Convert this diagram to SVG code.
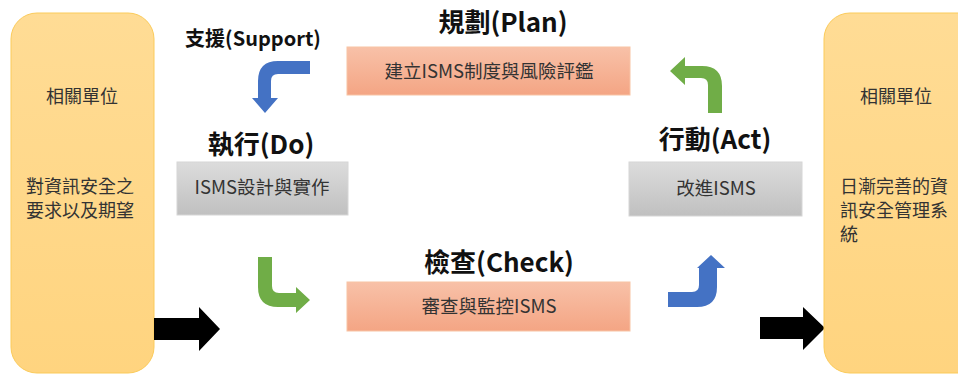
<svg xmlns="http://www.w3.org/2000/svg" width="958" height="374" viewBox="0 0 958 374">
<defs>
<linearGradient id="gPanel" x1="0" y1="0" x2="0" y2="1"><stop offset="0" stop-color="#ffdc95"/><stop offset="1" stop-color="#ffd47f"/></linearGradient>
<linearGradient id="gSalmon" x1="0" y1="0" x2="0" y2="1"><stop offset="0" stop-color="#f8c1a8"/><stop offset="1" stop-color="#f4a584"/></linearGradient>
<linearGradient id="gGray" x1="0" y1="0" x2="0" y2="1"><stop offset="0" stop-color="#dcdcdc"/><stop offset="1" stop-color="#c0c0c0"/></linearGradient>
<style>
.panel{fill:url(#gPanel);stroke:#fbcb5a;stroke-width:1}
.salmon{fill:url(#gSalmon);stroke:#f8c3a4;stroke-width:1}
.gray{fill:url(#gGray);stroke:#d6d6d6;stroke-width:1}
.t{font-family:"Noto Sans CJK TC","Noto Sans",sans-serif;font-size:18px;fill:#333}
.b{font-size:18.5px}
.title{font-family:"Noto Sans CJK TC","Noto Sans",sans-serif;font-size:26px;font-weight:700;fill:#111;text-anchor:middle}
.sub{font-family:"Noto Sans CJK TC","Noto Sans",sans-serif;font-size:20px;font-weight:700;fill:#111;text-anchor:middle}
.blue{fill:#4472c4}
.green{fill:#70ad47}
.black{fill:#000}
</style>
</defs>
<rect width="958" height="374" fill="#fff"/>
<g id="left-panel">
<rect class="panel" x="11" y="13" width="143" height="360" rx="26"/>
<text class="t" x="82" y="103" text-anchor="middle">相關單位</text>
<text class="t" x="26" y="193">對資訊安全之</text>
<text class="t" x="26" y="217">要求以及期望</text>
</g>
<g id="plan">
<text class="title" x="503" y="32">規劃(Plan)</text>
<rect class="salmon" x="347" y="47" width="283" height="48"/>
<text class="t b" x="489" y="78" text-anchor="middle">建立ISMS制度與風險評鑑</text>
</g>
<g id="do">
<text class="sub" x="253" y="46">支援(Support)</text>
<text class="title" x="261" y="154">執行(Do)</text>
<rect class="gray" x="177" y="162" width="171" height="53"/>
<text class="t b" x="262" y="194" text-anchor="middle">ISMS設計與實作</text>
</g>
<g id="act">
<text class="title" x="715" y="149">行動(Act)</text>
<rect class="gray" x="629" y="162" width="173" height="54"/>
<text class="t b" x="716" y="195" text-anchor="middle">改進ISMS</text>
</g>
<g id="check">
<text class="title" x="499" y="272">檢查(Check)</text>
<rect class="salmon" x="347" y="282" width="283" height="49"/>
<text class="t b" x="489" y="313" text-anchor="middle">審查與監控ISMS</text>
</g>
<g id="connectors">
<path class="blue" d="M310,61 L278,61 Q258,61 258,81 L258,98 L252,98 L265,113 L278,98 L271,98 L271,81 Q271,74 278,74 L310,74 Z"/>
<path class="green" d="M708,113 L708,85 Q708,78 701,78 L685,78 L685,85 L670,71 L685,57 L685,66 L702,66 Q722,66 722,86 L722,113 Z"/>
<path class="green" d="M258,257 L272,257 L272,286 Q272,293 279,293 L296,293 L296,287 L310,300 L296,313 L296,307 L278,307 Q258,307 258,287 Z"/>
<path class="blue" d="M668,292 L692,292 Q699,292 699,285 L699,268 L697,268 L711,255 L725,268 L717,268 L717,287 Q717,307 697,307 L668,307 Z"/>
<path class="black" d="M154,318 L199,318 L199,307 L220,329 L199,351 L199,340 L154,340 Z"/>
<path class="black" d="M760,317 L803,317 L803,307 L825,328 L803,350 L803,339 L760,339 Z"/>
</g>
<g id="right-panel">
<rect class="panel" x="824" y="13" width="160" height="360" rx="26"/>
<text class="t" x="896" y="103" text-anchor="middle">相關單位</text>
<text class="t" x="840" y="193">日漸完善的資</text>
<text class="t" x="840" y="217">訊安全管理系</text>
<text class="t" x="840" y="241">統</text>
</g>
</svg>
